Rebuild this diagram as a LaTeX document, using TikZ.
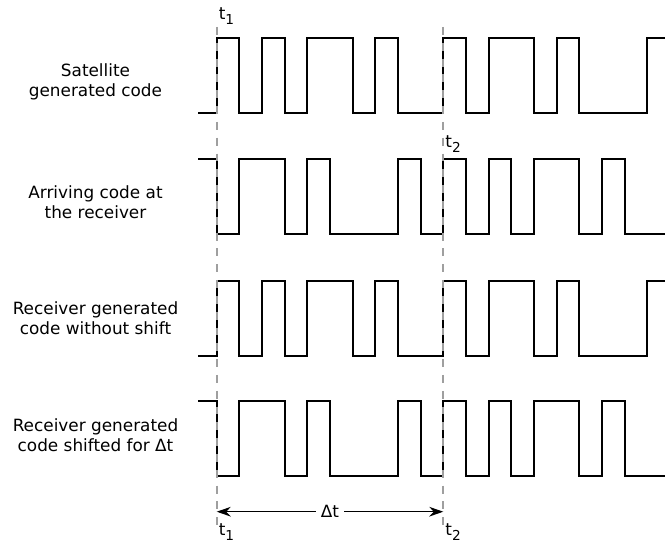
\documentclass[tikz,border=0pt]{standalone}
\usepackage{fontspec}
\setmainfont{DejaVu Sans}
\usetikzlibrary{arrows.meta}

\def\satcode{1,0,1,0,1,1,0,1,0,0,1,0,1,1,0,1,0,0,0,1}
\def\arrcode{0,1,1,0,1,0,0,0,1,0,1,0,1,0,1,1,0,1,0,0}
\newcommand{\tsub}[1]{t\raisebox{-0.32em}{\fontsize{7.8}{8}\selectfont #1}}

\begin{document}
\begin{tikzpicture}[font=\fontsize{9.6}{11.7}\selectfont,
  sig/.style={draw=black, line width=1.1pt},
  tline/.style={draw=gray!75, line width=1.1pt, dash pattern=on 4.5pt off 4.5pt},
  desc/.style={align=center},
  tlabel/.style={inner sep=1pt}]
\useasboundingbox (-4.334,0) rectangle (8.966,10.9);
\clip (-4.334,0) rectangle (8.966,10.9);
\node[desc] (sat) at (-2.424, 9.26) {Satellite\\generated code};
\node[desc] (arr) at (-2.424, 6.86) {Arriving code at\\the receiver};
\node[desc] (rgen) at (-2.424, 4.54) {Receiver generated\\code without shift};
\node[desc] (rshift) at (-2.424, 2.20) {Receiver generated\\code shifted for Δt};
% code signals
\begin{scope}[yshift=8.64cm, x=0.4532cm, y=1.5cm]
\draw[sig] (-0.82,0) -- (0,0) foreach \b [count=\i from 0] in \satcode { -- (\i,\b) -- (\i+1,\b) };
\end{scope}
\begin{scope}[yshift=6.214cm, x=0.4532cm, y=1.5cm]
\draw[sig] (-0.82,1) -- (0,1) foreach \b [count=\i from 0] in \arrcode { -- (\i,\b) -- (\i+1,\b) };
\end{scope}
\begin{scope}[yshift=3.786cm, x=0.4532cm, y=1.5cm]
\draw[sig] (-0.82,0) -- (0,0) foreach \b [count=\i from 0] in \satcode { -- (\i,\b) -- (\i+1,\b) };
\end{scope}
\begin{scope}[yshift=1.38cm, x=0.4532cm, y=1.5cm]
\draw[sig] (-0.82,1) -- (0,1) foreach \b [count=\i from 0] in \arrcode { -- (\i,\b) -- (\i+1,\b) };
\end{scope}
% time marks
\coordinate (T1top) at (0,10.36);
\coordinate (T1bot) at (0,0.34);
\coordinate (T2top) at (4.532,10.36);
\coordinate (T2bot) at (4.532,0.34);
\draw[tline] (T1top) -- (T1bot);
\draw[tline] (T2top) -- (T2bot);
\node[tlabel, anchor=south west] (t1a) at (T1top) {\tsub{1}};
\node[tlabel, anchor=west] (t2a) at (4.532,8.02) {\tsub{2}};
\node[tlabel, anchor=west] (t1b) at (0,0.26) {\tsub{1}};
\node[tlabel, anchor=west] (t2b) at (4.532,0.26) {\tsub{2}};
% shift
\coordinate (d1) at (0,0.666);
\coordinate (d2) at (4.532,0.666);
\draw[{Stealth[length=8pt, width=5.5pt]}-{Stealth[length=8pt, width=5.5pt]}, line width=0.7pt] (d1) -- node[fill=white, inner sep=3pt] (dt) {Δt} (d2);
\end{tikzpicture}
\end{document}
